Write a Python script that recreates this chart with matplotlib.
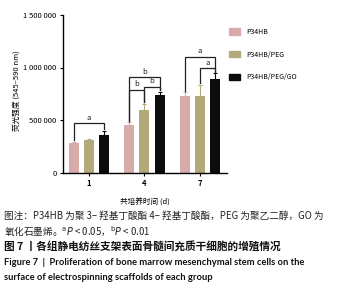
import numpy as np
import matplotlib
matplotlib.use("Agg")
import matplotlib.pyplot as plt
from matplotlib.patches import Patch

plt.rcParams['font.family'] = ['Noto Sans CJK SC', 'DejaVu Sans']
plt.rcParams['mathtext.fontset'] = 'dejavusans'

# data
days = ["1", "4", "7"]
groups = ["P34HB", "P34HB/PEG", "P34HB/PEG/GO"]
colors = ["#d8abab", "#b3aa7b", "#0c0c0c"]
p34hb = [284000, 452000, 725000]
p34hb_err = [10000, 25000, 40000]
peg = [310000, 595000, 725000]
peg_err = [10000, 60000, 110000]
peg_go = [357000, 741000, 890000]
peg_go_err = [41000, 29000, 55000]

# significance brackets: (day index, group a, group b, label, bracket height)
sig = [
    (0, 0, 2, "a", 469000),
    (1, 0, 2, "b", 907000),
    (1, 0, 1, "b", 786000),
    (1, 1, 2, "b", 817000),
    (2, 0, 2, "a", 1103000),
    (2, 1, 2, "a", 992000),
]

yticks = [0, 500000, 1000000, 1500000]
ytick_labels = ["0", "500 000", "1 000 000", "1 500 000"]

W, H = 337, 290
fig = plt.figure(figsize=(W / 100, H / 100), dpi=100)
ax = fig.add_axes([63 / W, 1 - 172.5 / H, (227 - 63) / W, (172.5 - 15) / H])

x = np.arange(len(days))
width = 0.18
step = 0.276
vals = [p34hb, peg, peg_go]
errs = [p34hb_err, peg_err, peg_go_err]
for i in range(3):
    xs = x + (i - 1) * step
    ax.bar(xs, vals[i], width, color=colors[i], label=groups[i], zorder=2)
    ax.errorbar(xs, vals[i], yerr=[np.zeros(3), errs[i]], fmt="none",
                ecolor=colors[i], elinewidth=0.8, capsize=1.2, capthick=0.8, zorder=2)

for d, a, b, lab, h in sig:
    xa = x[d] + (a - 1) * step
    xb = x[d] + (b - 1) * step
    ya = vals[a][d] + errs[a][d] + 15000
    yb = vals[b][d] + errs[b][d] + 15000
    ax.plot([xa, xa, xb, xb], [ya, h, h, yb], color="#222222", lw=0.9,
            solid_joinstyle="miter", zorder=3)
    ax.text((xa + xb) / 2, h + 15000, lab, ha="center", va="bottom",
            fontsize=5.5, color="#222222")

ax.set_xlim(-0.47, 2.49)
ax.set_ylim(0, 1500000)
ax.set_xticks(x)
ax.set_xticklabels(days, fontsize=5.5, fontweight="bold")
ax.set_yticks(yticks)
ax.set_yticklabels(ytick_labels, fontsize=5.5)
ax.tick_params(length=2.5, width=0.8, pad=2)
for s in ["top", "right"]:
    ax.spines[s].set_visible(False)
for s in ["left", "bottom"]:
    ax.spines[s].set_linewidth(1.0)
ax.set_ylabel("荧光强度 (545–590 nm)", fontsize=5.5)
ax.yaxis.set_label_coords(-(63 - 21) / 164, 0.52)
ax.set_xlabel("共培养时间 (d)", fontsize=5.5, labelpad=8)

handles = [Patch(color=c) for c in colors]
fig.legend(handles, groups, loc="upper left", bbox_to_anchor=(229 / W, 1 - 28 / H),
           frameon=False, fontsize=5, handlelength=1.6, handleheight=1.05,
           labelspacing=2.1, handletextpad=0.9, borderpad=0, borderaxespad=0)

cap = "#222222"
fig.text(4 / W, 1 - 216 / H,
         "图注：P34HB 为聚 3– 羟基丁酸酯 4– 羟基丁酸酯，PEG 为聚乙二醇，GO 为",
         fontsize=6.95, va="center", color=cap)
fig.text(4 / W, 1 - 231.5 / H,
         "氧化石墨烯。$^{\\mathrm{a}}P$ < 0.05，$^{\\mathrm{b}}P$ < 0.01",
         fontsize=6.95, va="center", color=cap)
fig.text(4 / W, 1 - 246.5 / H,
         "图 7 丨各组静电纺丝支架表面骨髓间充质干细胞的增殖情况",
         fontsize=7.7, va="center", color="#111111", fontweight="bold")
fig.text(4 / W, 1 - 262.5 / H,
         "Figure 7  |  Proliferation of bone marrow mesenchymal stem cells on the",
         fontsize=6.75, va="center", color="#111111", fontweight="bold", family="Lato")
fig.text(4 / W, 1 - 277.5 / H,
         "surface of electrospinning scaffolds of each group",
         fontsize=6.75, va="center", color="#111111", fontweight="bold", family="Lato")

fig.savefig("out.png", dpi=100)
